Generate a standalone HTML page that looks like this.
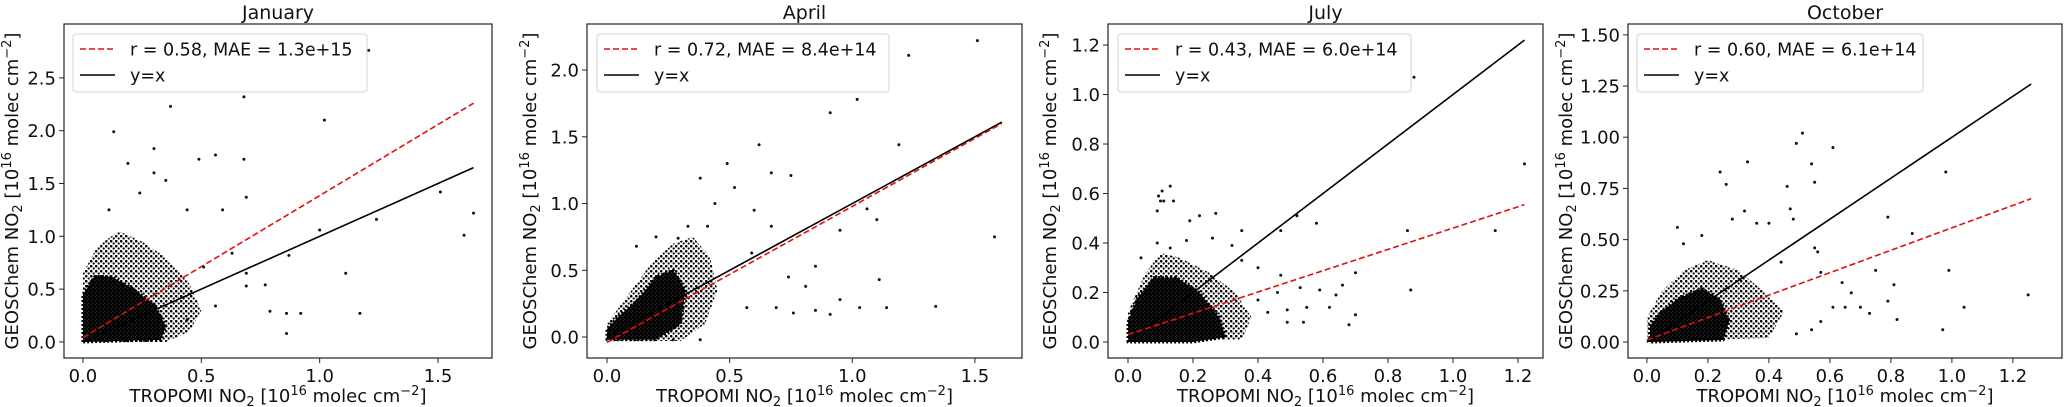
<!DOCTYPE html>
<html><head><meta charset="utf-8"><style>
html,body{margin:0;padding:0;background:#fff;}
svg{display:block;font-family:"DejaVu Sans","Liberation Sans",sans-serif;}
</style></head><body>
<svg id="fig" width="2067" height="407" viewBox="0 0 2067 407" xmlns="http://www.w3.org/2000/svg">
<defs>
<pattern id="speckle" width="5" height="5" patternUnits="userSpaceOnUse"><circle cx="1.2" cy="1.2" r="1.3" fill="#000"/><circle cx="3.7" cy="3.5" r="1.1" fill="#000"/></pattern>
<pattern id="speckleDense" width="4" height="4" patternUnits="userSpaceOnUse"><rect width="4" height="4" fill="#222"/><circle cx="1" cy="1" r="1.6" fill="#000"/><circle cx="3" cy="3" r="1.6" fill="#000"/></pattern>
</defs>
</svg>
<script>
// ---- data ----
const titles = ["January","April","July","October"];
const legendLabels = ["r = 0.58, MAE = 1.3e+15","r = 0.72, MAE = 8.4e+14","r = 0.43, MAE = 6.0e+14","r = 0.60, MAE = 6.1e+14"];
const xTicks = [[0,0.5,1.0,1.5],[0,0.5,1.0,1.5],[0,0.2,0.4,0.6,0.8,1.0,1.2],[0,0.2,0.4,0.6,0.8,1.0,1.2]];
const xTickLabels = [["0.0","0.5","1.0","1.5"],["0.0","0.5","1.0","1.5"],["0.0","0.2","0.4","0.6","0.8","1.0","1.2"],["0.0","0.2","0.4","0.6","0.8","1.0","1.2"]];
const yTicks = [[0,0.5,1.0,1.5,2.0,2.5],[0,0.5,1.0,1.5,2.0],[0,0.2,0.4,0.6,0.8,1.0,1.2],[0,0.25,0.5,0.75,1.0,1.25,1.5]];
const yTickLabels = [["0.0","0.5","1.0","1.5","2.0","2.5"],["0.0","0.5","1.0","1.5","2.0"],["0.0","0.2","0.4","0.6","0.8","1.0","1.2"],["0.00","0.25","0.50","0.75","1.00","1.25","1.50"]];
const xDomains = [[-0.080,1.728],[-0.0815,1.692],[-0.0615,1.277],[-0.062,1.361]];
const yDomains = [[-0.152,3.01],[-0.157,2.345],[-0.0646,1.285],[-0.078,1.553]];
// fit lines: [x0,y0,x1,y1]
const fitLines = [[0,0.04,1.65,2.26],[0,-0.04,1.61,1.60],[0,0.03,1.22,0.555],[0,0.01,1.26,0.70]];
const oneToOneMax = [1.65,1.61,1.22,1.26];
// dense cluster outlines (data coords)
const coreHulls = [
 [[0,0],[0,0.45],[0.05,0.62],[0.12,0.62],[0.2,0.52],[0.3,0.36],[0.35,0.15],[0.33,0.02]],
 [[0,-0.02],[0,0.06],[0.05,0.16],[0.12,0.27],[0.2,0.45],[0.27,0.5],[0.32,0.35],[0.3,0.1],[0.2,-0.02]],
 [[0,0],[0,0.08],[0.03,0.18],[0.08,0.26],[0.15,0.26],[0.22,0.2],[0.28,0.1],[0.3,0.02],[0.2,0]],
 [[0.01,0],[0.01,0.08],[0.05,0.15],[0.1,0.21],[0.18,0.26],[0.24,0.21],[0.27,0.1],[0.25,0.01]]
];
const haloHulls = [
 [[0,0],[0,0.65],[0.06,0.9],[0.15,1.05],[0.25,0.95],[0.35,0.8],[0.45,0.55],[0.5,0.3],[0.45,0.1],[0.35,0]],
 [[0,-0.03],[0,0.1],[0.1,0.35],[0.18,0.55],[0.27,0.7],[0.35,0.75],[0.42,0.6],[0.45,0.35],[0.4,0.1],[0.3,-0.03]],
 [[0,0],[0,0.12],[0.05,0.27],[0.1,0.36],[0.16,0.34],[0.25,0.28],[0.33,0.2],[0.38,0.1],[0.35,0.01]],
 [[0,0],[0,0.12],[0.05,0.25],[0.12,0.35],[0.2,0.4],[0.3,0.35],[0.38,0.25],[0.45,0.15],[0.4,0.02]]
];
const janX = [1.207,0.68,0.37,0.13,1.02,0.30,0.49,0.56,0.68,0.19,1.51,1.65,1.24,1.0,1.61,1.11,0.87,1.17,0.86,0.77,0.92,0.79,0.86,0.69,0.59,0.44,0.35,0.30,0.69,0.69,0.51,0.56,0.63,0.44,0.11,0.24];
const janY = [2.76,2.32,2.23,1.99,2.10,1.83,1.73,1.77,1.73,1.69,1.42,1.22,1.16,1.06,1.01,0.65,0.82,0.27,0.27,0.54,0.27,0.29,0.08,1.37,1.25,1.25,1.53,1.60,0.65,0.53,0.71,0.34,0.84,0.21,1.25,1.41];
const aprX = [1.51,1.23,1.02,0.91,0.62,1.19,0.49,0.75,0.38,0.67,1.58,1.10,1.06,0.95,1.11,0.85,0.81,1.34,1.14,1.03,0.95,0.91,0.85,0.76,0.69,0.57,0.60,0.52,0.44,0.41,0.67,0.29,0.2,0.12,0.33,0.59,0.74,0.38,0.27];
const aprY = [2.22,2.11,1.78,1.68,1.44,1.44,1.30,1.21,1.19,1.23,0.75,0.88,0.96,0.80,0.43,0.53,0.38,0.23,0.22,0.22,0.28,0.17,0.20,0.18,0.22,0.22,0.95,1.12,1.0,0.83,0.83,0.74,0.75,0.68,0.83,0.63,0.45,-0.02,-0.02];
const julX = [0.88,1.22,1.13,0.86,0.58,0.52,0.47,0.87,0.70,0.70,0.68,0.62,0.64,0.66,0.54,0.49,0.55,0.49,0.47,0.40,0.35,0.27,0.22,0.19,0.13,0.094,0.105,0.11,0.09,0.14,0.1,0.04,0.18,0.26,0.32,0.35,0.40,0.46,0.43,0.53,0.59,0.09,0.13];
const julY = [1.07,0.72,0.45,0.45,0.48,0.51,0.45,0.21,0.28,0.11,0.07,0.14,0.19,0.23,0.08,0.08,0.14,0.13,0.27,0.30,0.45,0.52,0.51,0.49,0.63,0.59,0.61,0.57,0.53,0.57,0.57,0.34,0.41,0.42,0.39,0.33,0.17,0.20,0.12,0.22,0.21,0.40,0.38];
const octX = [0.51,0.49,0.61,0.33,0.54,0.98,0.24,0.55,0.46,0.26,0.47,0.48,0.79,0.32,0.10,0.87,0.99,0.75,0.81,1.25,1.04,0.97,0.82,0.79,0.73,0.70,0.65,0.61,0.57,0.54,0.49,0.55,0.56,0.40,0.36,0.28,0.18,0.12,0.64,0.67,0.57,0.44];
const octY = [1.02,0.97,0.95,0.88,0.87,0.83,0.83,0.78,0.76,0.77,0.65,0.60,0.61,0.64,0.56,0.53,0.35,0.35,0.28,0.23,0.17,0.06,0.11,0.20,0.14,0.17,0.17,0.17,0.10,0.06,0.04,0.46,0.44,0.58,0.58,0.60,0.52,0.48,0.29,0.24,0.34,0.39];
const pointsX = [janX,aprX,julX,octX];
const pointsY = [janY,aprY,julY,octY];

// ---- layout ----
const boxes = [[64,492],[587,1022],[1108,1543],[1628,2062]];
const boxTop = 24, boxBot = 358;
const yLabelX = [12,530,1050,1566];
const legendBox = [[73,367],[597,889],[1118,1411],[1637,1923]];

const NS = "http://www.w3.org/2000/svg";
const svg = document.getElementById("fig");
function mk(tag, attrs, parent){
  const e = document.createElementNS(NS, tag);
  for (const k in attrs) e.setAttribute(k, attrs[k]);
  (parent||svg).appendChild(e);
  return e;
}

for (let p = 0; p < 4; p++){
  const [bx0,bx1] = boxes[p];
  const [xmin,xmax] = xDomains[p], [ymin,ymax] = yDomains[p];
  const sx = v => bx0 + (v - xmin) / (xmax - xmin) * (bx1 - bx0);
  const sy = v => boxBot - (v - ymin) / (ymax - ymin) * (boxBot - boxTop);
  const g = mk("g", {});
  
  
  mk("defs", {}, g).innerHTML = `<clipPath id="clip${p}"><rect x="${bx0}" y="${boxTop}" width="${bx1-bx0}" height="${boxBot-boxTop}"/></clipPath>`;
  const plot = mk("g", {"clip-path": `url(#clip${p})`}, g);
  
  

  const halo = mk("polygon", {points: haloHulls[p].map(d => sx(d[0]) + "," + sy(d[1])).join(" "), fill: "url(#speckle)", stroke: "none"}, plot);
  
  
  const core = mk("polygon", {points: coreHulls[p].map(d => sx(d[0]) + "," + sy(d[1])).join(" "), fill: "url(#speckleDense)", stroke: "#000", "stroke-width": 3, "stroke-dasharray": "2 2", "stroke-linejoin": "round"}, plot);
  
  

  for (let i = 0; i < pointsX[p].length; i++){
    const c = mk("circle", {cx: sx(pointsX[p][i]), cy: sy(pointsY[p][i]), r: 1.5, fill: "#111"}, plot);
    
    
  }
  const m = oneToOneMax[p];
  const l1 = mk("line", {x1: sx(0), y1: sy(0), x2: sx(m), y2: sy(m), stroke: "#000", "stroke-width": 1.6}, plot);
  
  
  const f = fitLines[p];
  const l2 = mk("line", {x1: sx(f[0]), y1: sy(f[1]), x2: sx(f[2]), y2: sy(f[3]), stroke: "#e01010", "stroke-width": 1.6, "stroke-dasharray": "6 3"}, plot);
  
  

  const fr = mk("rect", {x: bx0, y: boxTop, width: bx1-bx0, height: boxBot-boxTop, fill: "none", stroke: "#222", "stroke-width": 1.2}, g);
  
  

  xTicks[p].forEach((v, i) => {
    const x = sx(v);
    mk("line", {x1: x, y1: boxBot, x2: x, y2: boxBot + 5, stroke: "#222", "stroke-width": 1}, g);
    const t = mk("text", {x: x, y: boxBot + 24, "font-size": 18, "text-anchor": "middle", fill: "#111"}, g);
    t.textContent = xTickLabels[p][i];
    
    
  });
  yTicks[p].forEach((v, i) => {
    const y = sy(v);
    mk("line", {x1: bx0 - 5, y1: y, x2: bx0, y2: y, stroke: "#222", "stroke-width": 1}, g);
    const t = mk("text", {x: bx0 - 8, y: y + 6.5, "font-size": 18, "text-anchor": "end", fill: "#111"}, g);
    t.textContent = yTickLabels[p][i];
    
    
  });

  const tt = mk("text", {x: (bx0+bx1)/2, y: 19, "font-size": 19, "text-anchor": "middle", fill: "#111"}, g);
  tt.textContent = titles[p];
  
  

  const xl = mk("text", {x: (bx0+bx1)/2, y: 402, "font-size": 18, "text-anchor": "middle", fill: "#111"}, g);
  xl.innerHTML = 'TROPOMI NO<tspan font-size="13" dy="4">2</tspan><tspan dy="-4"> [10</tspan><tspan font-size="13" dy="-7">16</tspan><tspan dy="7"> molec cm</tspan><tspan font-size="13" dy="-7">−2</tspan><tspan dy="7">]</tspan>';
  
  

  const cy = (boxTop + boxBot) / 2;
  const yl = mk("text", {x: 0, y: 0, "font-size": 18, "text-anchor": "middle", fill: "#111", transform: `translate(${yLabelX[p] + 6},${cy}) rotate(-90)`}, g);
  yl.innerHTML = 'GEOSChem NO<tspan font-size="13" dy="4">2</tspan><tspan dy="-4"> [10</tspan><tspan font-size="13" dy="-7">16</tspan><tspan dy="7"> molec cm</tspan><tspan font-size="13" dy="-7">−2</tspan><tspan dy="7">]</tspan>';
  
  

  const [lx0, lx1] = legendBox[p];
  const lg = mk("g", {}, g);
  
  
  mk("rect", {x: lx0, y: 34, width: lx1 - lx0, height: 58, rx: 3, fill: "#fff", "fill-opacity": 0.85, stroke: "#d5d5d5", "stroke-width": 1}, lg);
  mk("line", {x1: lx0 + 7, y1: 49, x2: lx0 + 42, y2: 49, stroke: "#e01010", "stroke-width": 1.6, "stroke-dasharray": "6 3"}, lg);
  const t1 = mk("text", {x: lx0 + 57, y: 55.5, "font-size": 17.5, fill: "#111"}, lg);
  t1.textContent = legendLabels[p];
  
  
  mk("line", {x1: lx0 + 7, y1: 75, x2: lx0 + 42, y2: 75, stroke: "#000", "stroke-width": 1.6}, lg);
  const t2 = mk("text", {x: lx0 + 57, y: 81.5, "font-size": 17.5, fill: "#111"}, lg);
  t2.textContent = "y=x";
  
  
}
</script>
</body></html>
